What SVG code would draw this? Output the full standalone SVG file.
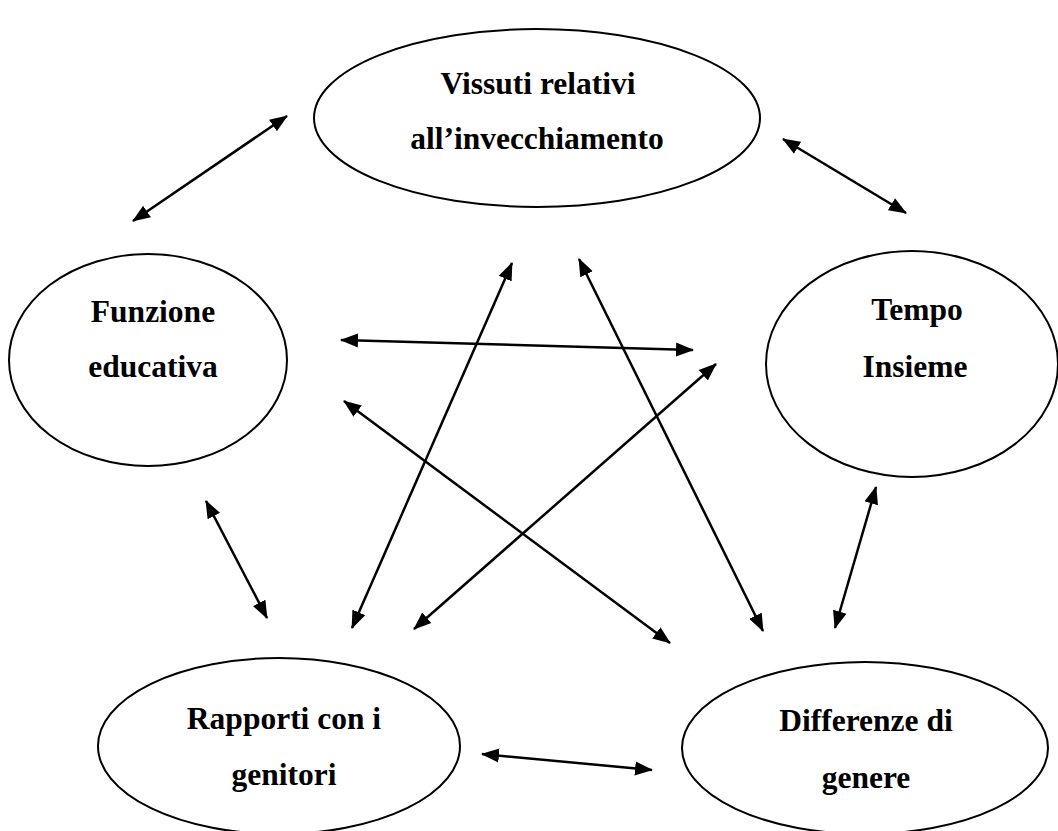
<svg xmlns="http://www.w3.org/2000/svg" width="1058" height="831" viewBox="0 0 1058 831">
<style>
.n{fill:#fff;stroke:#000;stroke-width:2}
.t{font-family:"Liberation Serif","Times New Roman",serif;font-weight:bold;font-size:31.5px;fill:#000;text-anchor:middle}
.c line{stroke:#000;stroke-width:2.5;marker-start:url(#ah);marker-end:url(#ah)}
</style>
<defs>
<marker id="ah" markerUnits="userSpaceOnUse" markerWidth="18" markerHeight="15" refX="17" refY="7" orient="auto-start-reverse" viewBox="0 0 18 14">
<path d="M0,0 L18,7 L0,14 Z" fill="#000"/>
</marker>
</defs>
<rect width="1058" height="831" fill="#fff"/>
<g id="n-vissuti">
<ellipse class="n" cx="537" cy="118" rx="223" ry="89"/>
<text class="t" x="538" y="94">Vissuti relativi</text>
<text class="t" x="537" y="149">all’invecchiamento</text>
</g>
<g id="n-funzione">
<ellipse class="n" cx="148" cy="360" rx="139" ry="106"/>
<text class="t" x="153" y="322">Funzione</text>
<text class="t" x="153" y="377">educativa</text>
</g>
<g id="n-tempo">
<ellipse class="n" cx="912" cy="364" rx="146" ry="113"/>
<text class="t" x="917" y="320">Tempo</text>
<text class="t" x="915" y="377">Insieme</text>
</g>
<g id="n-rapporti">
<ellipse class="n" cx="279" cy="746" rx="181" ry="88"/>
<text class="t" x="284" y="729">Rapporti con i</text>
<text class="t" x="284" y="785">genitori</text>
</g>
<g id="n-differenze">
<ellipse class="n" cx="865" cy="748" rx="183" ry="86"/>
<text class="t" x="866" y="731">Differenze di</text>
<text class="t" x="866" y="788">genere</text>
</g>
<g id="connectors" class="c">
<line x1="133" y1="221" x2="287" y2="116"/>
<line x1="783" y1="139" x2="906" y2="213"/>
<line x1="206" y1="501" x2="267" y2="618"/>
<line x1="835" y1="628" x2="876" y2="487"/>
<line x1="482" y1="754" x2="652" y2="770"/>
<line x1="352" y1="628" x2="512" y2="263"/>
<line x1="579" y1="259" x2="763" y2="631"/>
<line x1="341" y1="340" x2="693" y2="350"/>
<line x1="414" y1="629" x2="716" y2="364"/>
<line x1="344" y1="401" x2="670" y2="643"/>
</g>
</svg>
